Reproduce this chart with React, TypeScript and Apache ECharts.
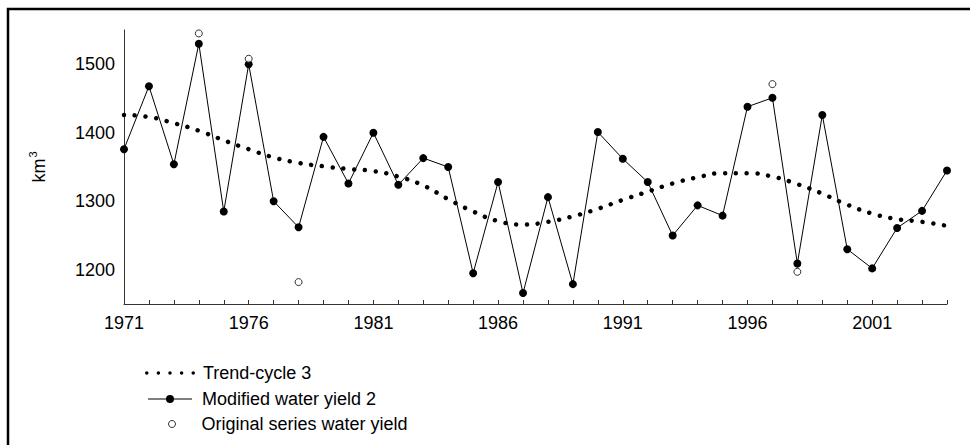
import React, { useEffect, useRef } from "react";
import * as echarts from "echarts";

const years = [
  1971, 1972, 1973, 1974, 1975, 1976, 1977, 1978, 1979, 1980, 1981, 1982,
  1983, 1984, 1985, 1986, 1987, 1988, 1989, 1990, 1991, 1992, 1993, 1994,
  1995, 1996, 1997, 1998, 1999, 2000, 2001, 2002, 2003, 2004,
];

const trendCycle3 = [
  1426, 1423, 1414, 1403, 1389, 1376, 1364, 1356, 1351, 1347, 1344, 1336,
  1323, 1303, 1285, 1271, 1266, 1270, 1278, 1289, 1302, 1314, 1326, 1335,
  1341, 1341, 1336, 1325, 1311, 1295, 1282, 1274, 1270, 1264,
];

const modifiedWaterYield2 = [
  1376, 1468, 1354, 1530, 1285, 1500, 1300, 1262, 1394, 1326, 1400, 1324,
  1363, 1350, 1195, 1328, 1166, 1306, 1179, 1401, 1362, 1328, 1250, 1294,
  1279, 1438, 1451, 1209, 1426, 1230, 1202, 1261, 1286, 1345,
];

// Only the years where the original series differs from the modified one are visible
const originalWaterYield: (number | null)[] = [
  null, null, null, 1545, null, 1508, null, 1182, null, null, null, null,
  null, null, null, null, null, null, null, null, null, null, null, null,
  null, null, 1471, 1197, null, null, null, null, null, null,
];

const xTickLabels = ["1971", "1976", "1981", "1986", "1991", "1996", "2001"];
const yTickLabels = ["1200", "1300", "1400", "1500"];

const SERIES_TREND = "Trend-cycle 3";
const SERIES_MOD = "Modified water yield 2";
const SERIES_ORIG = "Original series water yield";

const FONT = "'Liberation Sans', Arial, sans-serif";

const trendIcon =
  "path://M0.25,2a1.75,1.75 0 1,1 3.5,0a1.75,1.75 0 1,1 -3.5,0Z" +
  "M11.75,2a1.75,1.75 0 1,1 3.5,0a1.75,1.75 0 1,1 -3.5,0Z" +
  "M23.25,2a1.75,1.75 0 1,1 3.5,0a1.75,1.75 0 1,1 -3.5,0Z" +
  "M34.75,2a1.75,1.75 0 1,1 3.5,0a1.75,1.75 0 1,1 -3.5,0Z" +
  "M46.25,2a1.75,1.75 0 1,1 3.5,0a1.75,1.75 0 1,1 -3.5,0Z";

const modIcon =
  "path://M0,3.5H18.5V4.5H0Z" +
  "M25.5,3.5H44V4.5H25.5Z" +
  "M18,4a4,4 0 1,1 8,0a4,4 0 1,1 -8,0Z";

export default function App() {
  const ref = useRef<HTMLDivElement>(null);

  useEffect(() => {
    if (!ref.current) return;
    const chart = echarts.init(ref.current, null, { renderer: "svg" });

    const pair = (arr: (number | null)[]) =>
      years.map((y, i) => (arr[i] == null ? [y, null] : [y, arr[i]]));

    const legendText = {
      color: "#000",
      fontSize: 18,
      fontFamily: FONT,
      lineHeight: 20,
    };

    chart.setOption({
      animation: false,
      backgroundColor: "#fff",
      graphic: [
        {
          type: "rect",
          silent: true,
          shape: { x: 8, y: 9, width: 1200, height: 800 },
          style: { fill: "none", stroke: "#000", lineWidth: 2.5 },
          z: 100,
        },
      ],
      grid: { left: 124, right: 23, top: 30, bottom: 141, containLabel: false },
      xAxis: {
        type: "value",
        min: 1971,
        max: 2004,
        interval: 1,
        axisLine: { show: true, lineStyle: { color: "#333", width: 1 } },
        axisTick: { show: true, inside: true, length: 4, lineStyle: { color: "#333" } },
        splitLine: { show: false },
        axisLabel: {
          color: "#000",
          fontSize: 18,
          fontFamily: FONT,
          margin: 10,
          formatter: (v: number) =>
            xTickLabels.indexOf(String(v)) >= 0 ? String(v) : "",
        },
      },
      yAxis: {
        type: "value",
        min: 1150,
        max: 1550,
        interval: 50,
        name: "{a|km}{b|3}",
        nameLocation: "middle",
        nameRotate: 90,
        nameGap: 76,
        nameTextStyle: {
          color: "#000",
          fontFamily: FONT,
          rich: {
            a: { fontSize: 18, fontFamily: FONT, color: "#000", verticalAlign: "bottom" },
            b: { fontSize: 11, fontFamily: FONT, color: "#000", verticalAlign: "top", padding: [0, 0, 10, 1] },
          },
        },
        axisLine: { show: true, lineStyle: { color: "#333", width: 1 } },
        axisTick: { show: false },
        splitLine: { show: false },
        axisLabel: {
          color: "#000",
          fontSize: 18,
          fontFamily: FONT,
          margin: 9,
          formatter: (v: number) =>
            yTickLabels.indexOf(String(v)) >= 0 ? String(v) : "",
        },
      },
      legend: [
        {
          data: [{ name: SERIES_TREND, icon: trendIcon }],
          left: 140,
          top: 358,
          itemWidth: 50,
          itemHeight: 4,
          selectedMode: false,
          itemStyle: { color: "#000", borderWidth: 0 },
          textStyle: { ...legendText, padding: [0, 0, 0, 3] },
        },
        {
          data: [{ name: SERIES_MOD, icon: modIcon }],
          left: 143,
          top: 384,
          itemWidth: 44,
          itemHeight: 8,
          selectedMode: false,
          itemStyle: { color: "#000", borderWidth: 0 },
          textStyle: { ...legendText, padding: [0, 0, 0, 5] },
        },
        {
          data: [{ name: SERIES_ORIG, icon: "circle" }],
          left: 163,
          top: 409,
          itemWidth: 7,
          itemHeight: 7,
          selectedMode: false,
          itemStyle: { color: "#fff", borderColor: "#000", borderWidth: 1 },
          textStyle: { ...legendText, padding: [0, 0, 0, 21] },
        },
      ],
      series: [
        {
          name: SERIES_TREND,
          type: "line",
          data: pair(trendCycle3),
          smooth: true,
          symbol: "none",
          color: "#000",
          lineStyle: { color: "#000", width: 4.5, type: [0.01, 10.8], cap: "round" },
          z: 2,
        },
        {
          name: SERIES_MOD,
          type: "line",
          data: pair(modifiedWaterYield2),
          symbol: "circle",
          symbolSize: 8,
          showAllSymbol: true,
          color: "#000",
          itemStyle: { color: "#000" },
          lineStyle: { color: "#000", width: 1 },
          z: 3,
        },
        {
          name: SERIES_ORIG,
          type: "scatter",
          data: pair(originalWaterYield).filter((d) => d[1] != null),
          symbol: "circle",
          symbolSize: 7,
          color: "#000",
          itemStyle: { color: "#fff", borderColor: "#000", borderWidth: 1 },
          z: 4,
        },
      ],
    });

    return () => chart.dispose();
  }, []);

  return (
    <div
      ref={ref}
      style={{ position: "fixed", left: 0, top: 0, width: 970, height: 445, background: "#fff" }}
    />
  );
}
